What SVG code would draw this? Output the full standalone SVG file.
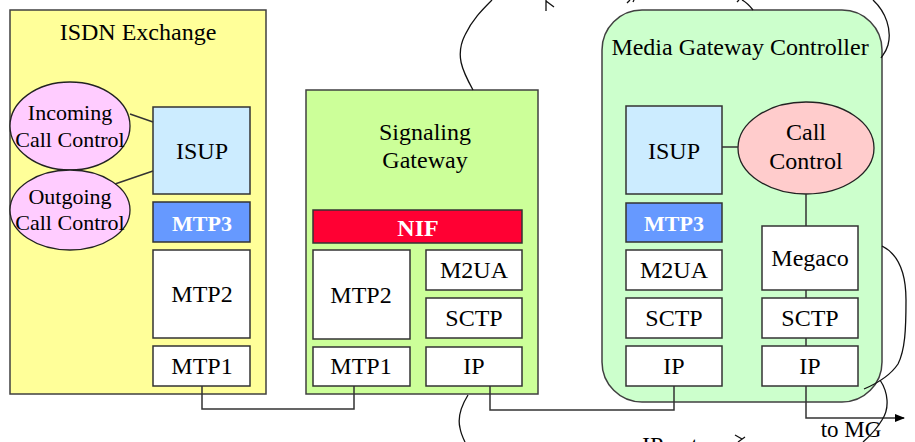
<svg xmlns="http://www.w3.org/2000/svg" width="915" height="442" viewBox="0 0 915 442" font-family="'Liberation Serif','DejaVu Serif',serif">
<defs>
<style>
text{font-family:'Liberation Serif','Times New Roman',serif;font-size:22px;fill:#000;text-anchor:middle}
.t{font-size:24px}
.b{font-weight:bold;fill:#fff;font-size:22px}
.frame{stroke:#404040;stroke-width:1.5}
.box{fill:#fff;stroke:#333;stroke-width:1.5}
.isup{fill:#CCECFF;stroke:#333;stroke-width:1.5}
.mtp3{fill:#6699FF;stroke:#333;stroke-width:1.5}
.ell{stroke:#222;stroke-width:1.3}
.ln{fill:none;stroke:#333;stroke-width:1.5}
.cv{fill:none;stroke:#111;stroke-width:1.3}
</style>
<marker id="ah" markerWidth="10" markerHeight="8" refX="9" refY="4" orient="auto" markerUnits="userSpaceOnUse">
<path d="M0,0 L10,4 L0,8 Z" fill="#000"/>
</marker>
</defs>
<rect width="915" height="442" fill="#fff"/>

<g id="isdn-exchange">
<rect x="10" y="10" width="256" height="384" fill="#FFFF99" class="frame"/>
<text x="138" y="40" class="t">ISDN Exchange</text>
</g>
<g id="incoming-cc">
<ellipse cx="70" cy="126" rx="60" ry="44" fill="#FFCCFF" class="ell"/>
<text x="70" y="120">Incoming</text>
<text x="70" y="147">Call Control</text>
</g>
<g id="outgoing-cc">
<ellipse cx="70" cy="210" rx="60" ry="40" fill="#FFCCFF" class="ell"/>
<text x="70" y="204">Outgoing</text>
<text x="70" y="230">Call Control</text>
</g>
<g id="isdn-isup"><rect x="153" y="107" width="97" height="87" class="isup"/><text x="202" y="159" class="t">ISUP</text></g>
<g id="isdn-mtp3"><rect x="153" y="202" width="97" height="40" class="mtp3"/><text x="202" y="231" class="b">MTP3</text></g>
<g id="isdn-mtp2"><rect x="153" y="250" width="97" height="88" class="box"/><text x="202" y="302" class="t">MTP2</text></g>
<g id="isdn-mtp1"><rect x="153" y="346" width="97" height="40" class="box"/><text x="202" y="374" class="t">MTP1</text></g>

<g id="signaling-gateway">
<rect x="306" y="90" width="232" height="304" fill="#CCFF99" class="frame"/>
<text x="425" y="140" class="t">Signaling</text>
<text x="425" y="168" class="t">Gateway</text>
</g>
<g id="sg-nif"><rect x="313" y="210" width="209" height="33" fill="#FF0033" stroke="#333" stroke-width="1.5"/><text x="418" y="236" class="b" style="font-size:24px">NIF</text></g>
<g id="sg-mtp2"><rect x="313" y="250" width="97" height="89" class="box"/><text x="361" y="303" class="t">MTP2</text></g>
<g id="sg-m2ua"><rect x="426" y="250" width="96" height="40" class="box"/><text x="474" y="278" class="t">M2UA</text></g>
<g id="sg-sctp"><rect x="426" y="298" width="96" height="40" class="box"/><text x="474" y="326" class="t">SCTP</text></g>
<g id="sg-mtp1"><rect x="313" y="347" width="97" height="39" class="box"/><text x="361" y="374" class="t">MTP1</text></g>
<g id="sg-ip"><rect x="426" y="347" width="96" height="39" class="box"/><text x="474" y="374" class="t">IP</text></g>

<g id="mgc">
<rect x="602" y="10" width="280" height="392" rx="40" ry="40" fill="#CCFFCC" class="frame"/>
<text x="740" y="55" class="t">Media Gateway Controller</text>
</g>
<g id="mgc-isup"><rect x="626" y="106" width="96" height="88" class="isup"/><text x="674" y="159" class="t">ISUP</text></g>
<g id="mgc-callcontrol">
<ellipse cx="806" cy="148" rx="68" ry="46" fill="#FFCCCC" class="ell"/>
<text x="806" y="140" class="t">Call</text>
<text x="806" y="169" class="t">Control</text>
</g>
<g id="mgc-mtp3"><rect x="626" y="203" width="96" height="39" class="mtp3"/><text x="674" y="231" class="b">MTP3</text></g>
<g id="mgc-m2ua"><rect x="626" y="250" width="96" height="40" class="box"/><text x="674" y="278" class="t">M2UA</text></g>
<g id="mgc-sctp-l"><rect x="626" y="298" width="96" height="40" class="box"/><text x="674" y="326" class="t">SCTP</text></g>
<g id="mgc-ip-l"><rect x="626" y="346" width="96" height="40" class="box"/><text x="674" y="374" class="t">IP</text></g>
<g id="mgc-megaco"><rect x="762" y="226" width="96" height="64" class="box"/><text x="810" y="266" class="t">Megaco</text></g>
<g id="mgc-sctp-r"><rect x="762" y="298" width="96" height="40" class="box"/><text x="810" y="326" class="t">SCTP</text></g>
<g id="mgc-ip-r"><rect x="762" y="346" width="96" height="40" class="box"/><text x="810" y="374" class="t">IP</text></g>

<g id="connectors">
<line class="ln" x1="130" y1="114" x2="153" y2="122"/>
<line class="ln" x1="115" y1="184" x2="153" y2="171"/>
<path class="ln" d="M202,386 V409 H354 V386"/>
<path class="ln" d="M490,386 V410 H674 V386"/>
<line class="ln" x1="722" y1="147" x2="738" y2="147"/>
<line class="ln" x1="806" y1="194" x2="806" y2="226"/>
<line class="ln" x1="806" y1="290" x2="806" y2="298"/>
<line class="ln" x1="806" y1="338" x2="806" y2="346"/>
<path class="ln" d="M806,386 V418 H904" marker-end="url(#ah)"/>
<text x="851" y="437" style="font-size:23px">to MG</text>
</g>

<g id="fragments">
<path class="cv" d="M473,90 C462,70 455,55 465,35 C472,20 482,10 492,0"/>
<path class="cv" d="M546,11 L546,0 M546,1 L554,7"/>
<path class="cv" d="M627,3 L630,0 M633,2 L634,0"/>
<path class="cv" d="M753,10 C749,5 746,2 742,0 M737,2 L739,0"/>
<path class="cv" d="M873,0 C886,12 892,30 888,45 C886,52 883,55 881,58"/>
<path class="cv" d="M882,246 C900,255 906,275 906,300 C906,330 905,350 898,364 C890,376 878,383 864,389"/>
<path class="cv" d="M880,380 C888,392 890,408 882,420 C876,430 870,436 863,442"/>
<path class="cv" d="M468,395 C460,408 458,420 460,428 C461,434 463,438 465,442"/>
<path class="cv" d="M735,435 L742,439 M738,442 L745,437"/>
<text x="670" y="453" class="t">IP net</text>
</g>
</svg>
